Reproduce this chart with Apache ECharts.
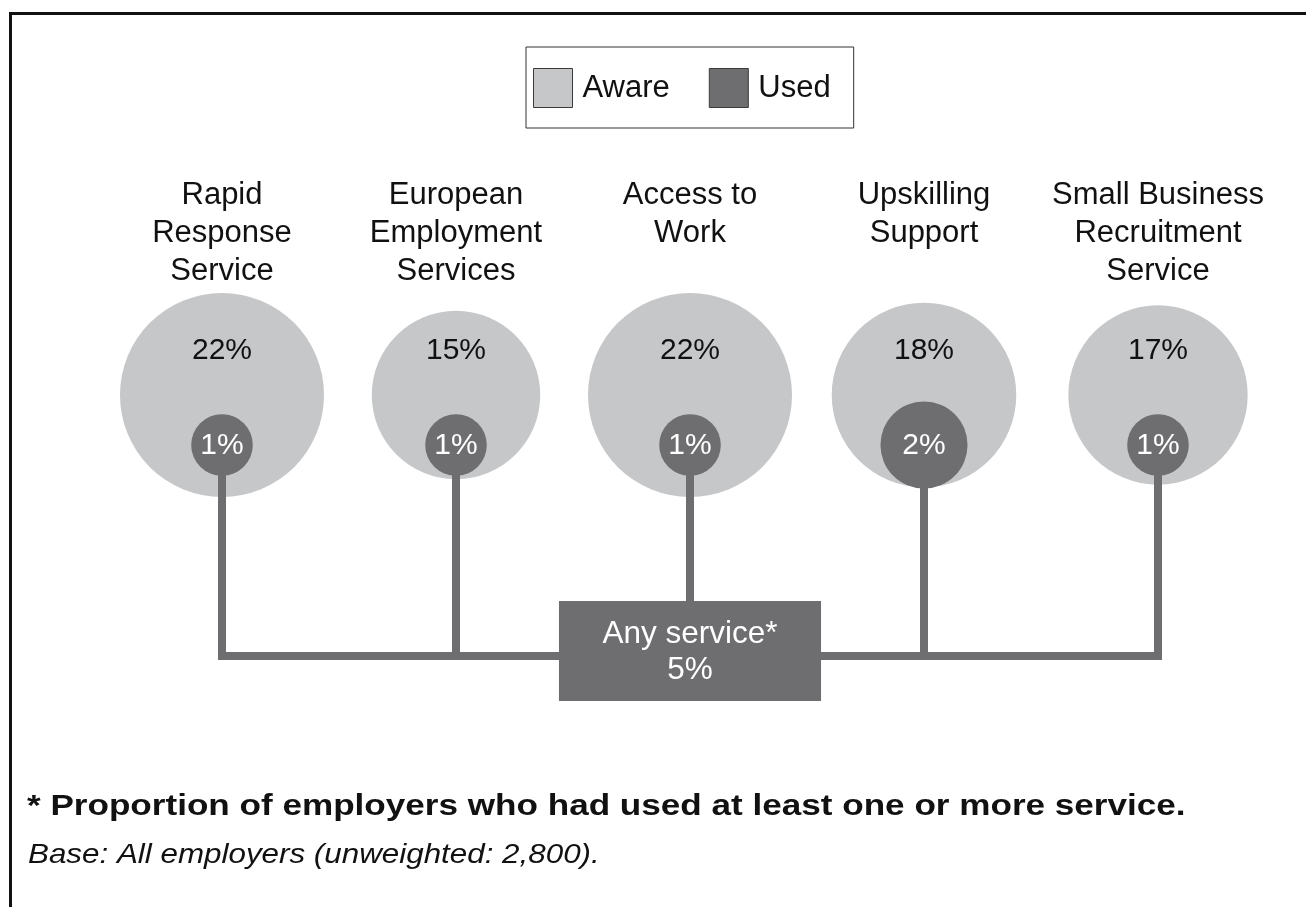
<!DOCTYPE html>
<html>
<head>
<meta charset="utf-8">
<script src="https://cdn.jsdelivr.net/npm/echarts@6/dist/echarts.min.js"></script>
<style>
  html, body { margin: 0; padding: 0; background: #ffffff; }
  #chart { width: 1306px; height: 907px; }
</style>
</head>
<body>
<div id="chart"></div>
<script>
// Services shown across the diagram
const categories = [
  'Rapid\nResponse\nService',
  'European\nEmployment\nServices',
  'Access to\nWork',
  'Upskilling\nSupport',
  'Small Business\nRecruitment\nService'
];
// Percentage of employers aware of / having used each service
const awareValues = [22, 15, 22, 18, 17];
const usedValues = [1, 1, 1, 2, 1];
// Combined usage box
const anyServiceLabel = 'Any service*';
const anyServiceValue = 5;
// Notes under the diagram
const footnoteText = '* Proportion of employers who had used at least one or more service.';
const baseText = 'Base: All employers (unweighted: 2,800).';

const FONT = "Arial, 'Liberation Sans', Helvetica, sans-serif";
const AWARE_COLOR = '#c6c7c9';
const USED_COLOR = '#6e6e70';
const TEXT_COLOR = '#111111';

// Circle area is proportional to the percentage
const AWARE_SCALE = 21.75;   // px of radius per sqrt(percent)
const USED_SCALE = 30.8;

// Vertical rows, in units of the hidden y axis (one unit per pixel below the grid top)
const ROW = { aware: 105, used: 155, bus: 366, boxTop: 311, boxBottom: 411 };
const BOX_WIDTH = 1.12;      // in category bands
const LINE_WIDTH = 8;

function pct(v) { return v + '%'; }

function renderAware(params, api) {
  const c = api.coord([api.value(0), ROW.aware]);
  const v = api.value(1);
  return {
    type: 'group',
    children: [
      { type: 'circle', shape: { cx: c[0], cy: c[1], r: AWARE_SCALE * Math.sqrt(v) },
        style: { fill: AWARE_COLOR } },
      { type: 'text', style: { x: c[0], y: c[1] - 44, text: pct(v), fill: TEXT_COLOR,
        fontSize: 30, fontFamily: FONT, align: 'center', verticalAlign: 'middle' } }
    ]
  };
}

function renderUsed(params, api) {
  const c = api.coord([api.value(0), ROW.used]);
  const v = api.value(1);
  return {
    type: 'group',
    children: [
      { type: 'circle', shape: { cx: c[0], cy: c[1], r: USED_SCALE * Math.sqrt(v) },
        style: { fill: USED_COLOR } },
      { type: 'text', style: { x: c[0], y: c[1] + 1, text: pct(v), fill: '#ffffff',
        fontSize: 30, fontFamily: FONT, align: 'center', verticalAlign: 'middle' } }
    ]
  };
}

// Stem from each used circle down to the bus, plus the bus segment to the next service
function renderConnector(params, api) {
  const i = api.value(0);
  const top = api.coord([i, ROW.used]);
  const bottom = api.coord([i, ROW.bus]);
  const children = [
    { type: 'line', shape: { x1: top[0], y1: top[1], x2: bottom[0], y2: bottom[1] },
      style: { stroke: USED_COLOR, lineWidth: LINE_WIDTH, lineCap: 'square' } }
  ];
  if (i < categories.length - 1) {
    const next = api.coord([i + 1, ROW.bus]);
    children.push({ type: 'line', shape: { x1: bottom[0], y1: bottom[1], x2: next[0], y2: next[1] },
      style: { stroke: USED_COLOR, lineWidth: LINE_WIDTH, lineCap: 'square' } });
  }
  return { type: 'group', children };
}

function renderAnyService(params, api) {
  const i = api.value(0);
  const tl = api.coord([i, ROW.boxTop]);
  const br = api.coord([i, ROW.boxBottom]);
  const w = api.size([1, 0])[0] * BOX_WIDTH;
  return {
    type: 'group',
    children: [
      { type: 'rect', shape: { x: tl[0] - w / 2, y: tl[1], width: w, height: br[1] - tl[1] },
        style: { fill: USED_COLOR } },
      { type: 'text', style: { x: tl[0], y: (tl[1] + br[1]) / 2 + 1,
        text: anyServiceLabel + '\n' + pct(api.value(1)), fill: '#ffffff',
        fontSize: 31.5, fontFamily: FONT, lineHeight: 36, align: 'center', verticalAlign: 'middle' } }
    ]
  };
}

const chart = echarts.init(document.getElementById('chart'), null, { renderer: 'canvas' });

chart.setOption({
  backgroundColor: '#ffffff',
  animation: false,
  textStyle: { fontFamily: FONT },
  legend: {
    data: ['Aware', 'Used'],
    left: 526,
    top: 47,
    orient: 'horizontal',
    padding: [21, 23, 20, 7],
    itemWidth: 39,
    itemHeight: 39,
    itemGap: 39,
    icon: 'rect',
    borderColor: '#333333',
    borderWidth: 1,
    itemStyle: { borderColor: '#3a3a3a', borderWidth: 1 },
    textStyle: { fontSize: 31, color: TEXT_COLOR, fontFamily: FONT, padding: [0, 0, 0, 5] },
    selectedMode: false
  },
  grid: { left: 105, right: 31, top: 290, bottom: 0 },
  xAxis: {
    type: 'category',
    data: categories,
    position: 'top',
    axisLine: { show: false },
    axisTick: { show: false },
    splitLine: { show: false },
    axisLabel: {
      interval: 0,
      margin: 114,
      verticalAlign: 'top',
      fontSize: 31,
      lineHeight: 38,
      color: TEXT_COLOR,
      fontFamily: FONT
    }
  },
  yAxis: { type: 'value', min: 0, max: 617, inverse: true, show: false },
  series: [
    {
      name: 'Aware', type: 'custom', z: 1,
      itemStyle: { color: AWARE_COLOR },
      data: awareValues.map((v, i) => [i, v]),
      renderItem: renderAware
    },
    {
      name: 'Connector', type: 'custom', z: 2,
      data: categories.map((c, i) => [i]),
      renderItem: renderConnector
    },
    {
      name: 'Used', type: 'custom', z: 3,
      itemStyle: { color: USED_COLOR },
      data: usedValues.map((v, i) => [i, v]),
      renderItem: renderUsed
    },
    {
      name: 'Any service', type: 'custom', z: 4,
      data: [[2, anyServiceValue]],
      renderItem: renderAnyService
    }
  ],
  graphic: [
    { type: 'polyline', silent: true,
      shape: { points: [[10.5, 907], [10.5, 13.5], [1306, 13.5]] },
      style: { stroke: '#111111', lineWidth: 3, fill: null } },
    // footnotes are set in a wide face: slightly stretched horizontally
    { type: 'text', x: 27, y: 807, scaleX: 1.17, silent: true,
      style: { text: footnoteText, fontSize: 30, fontWeight: 'bold', fontFamily: FONT,
        fill: TEXT_COLOR, verticalAlign: 'middle' } },
    { type: 'text', x: 28, y: 855, scaleX: 1.12, silent: true,
      style: { text: baseText, fontSize: 28, fontStyle: 'italic', fontFamily: FONT,
        fill: TEXT_COLOR, verticalAlign: 'middle' } }
  ]
});
</script>
</body>
</html>
